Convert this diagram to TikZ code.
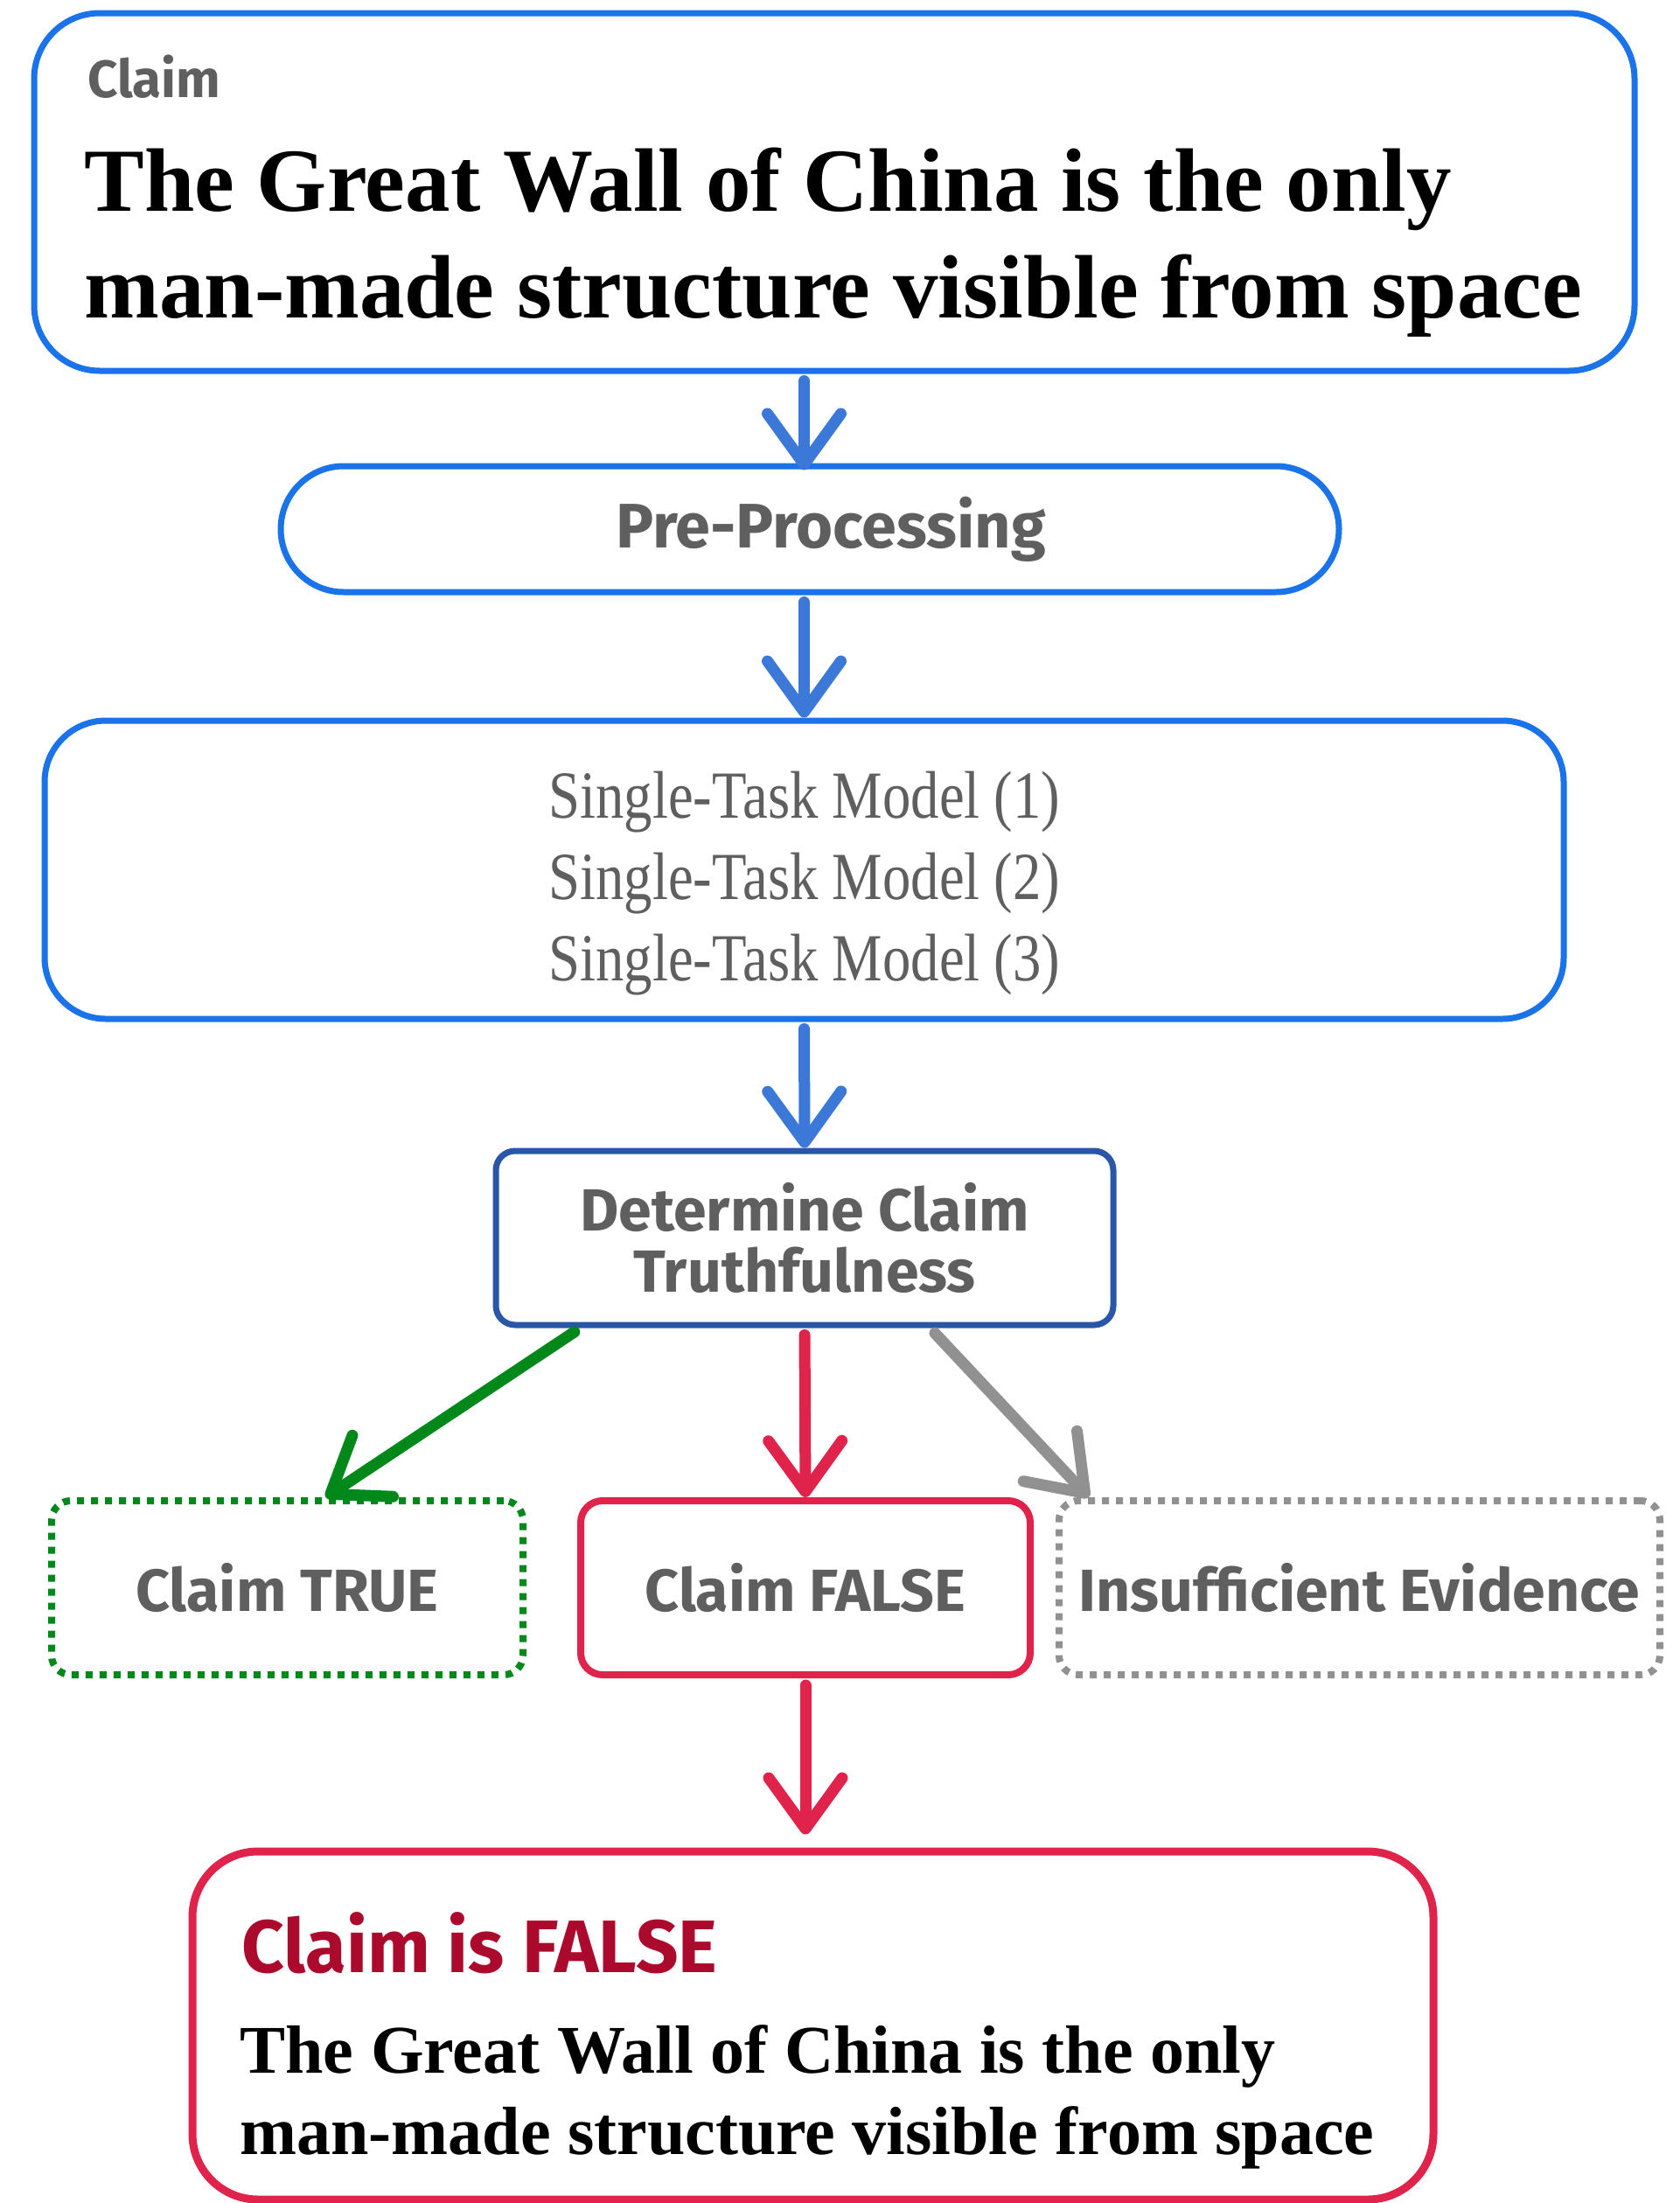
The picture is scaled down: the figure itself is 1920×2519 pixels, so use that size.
\documentclass[tikz,border=0pt]{standalone}
\usepackage{fontspec}
\setmainfont{Liberation Serif}
\setsansfont{Fira Sans}
\newfontfamily\modelfont[FakeStretch=0.84]{Liberation Serif}
\usetikzlibrary{arrows.meta}

\definecolor{claimblue}{HTML}{1A73E8}
\definecolor{arrowblue}{HTML}{3C78D8}
\definecolor{truthblue}{HTML}{2A56A8}
\definecolor{truegreen}{HTML}{00891A}
\definecolor{falsered}{HTML}{E0234A}
\definecolor{verdictred}{HTML}{AB0A2C}
\definecolor{unknowngray}{HTML}{919191}
\definecolor{labelgray}{HTML}{5F5F5F}

\begin{document}
\begin{tikzpicture}[x=1pt, y=-1pt,
		box/.style={draw, line width=7pt, inner sep=0pt},
		stage-text/.style={font=\sffamily\bfseries\fontsize{68}{70}\selectfont, text=labelgray},
		dotted-line/.style={line width=8pt, dash pattern=on 8pt off 8pt},
		flow/.style={line width=13pt, line cap=round, shorten <=8pt, -{Straight Barb[length=58pt, width=84pt, round]}}]
				\useasboundingbox (0, 0) rectangle (1920, 2519);

				% claim on top (base anchor sits on the last line)
				\node[box, draw=claimblue, rounded corners=75pt, minimum width=1830pt, minimum height=409pt] at (954, 219.5) (claim-box) {};
				\node[anchor=base west, font=\sffamily\bfseries\fontsize{60}{60}\selectfont, text=labelgray] at (97, 111) (claim-label) {Claim};
				\node[anchor=base west, align=left, font=\bfseries\fontsize{103}{122}\selectfont] at (93, 363) (claim-text) {The Great Wall of China is the only\\man-made structure visible from space};

				\node[box, draw=claimblue, rounded corners=72pt, minimum width=1210pt, minimum height=144pt] at (926, 605) (pre-processing) {};
				\node[stage-text, font=\sffamily\bfseries\fontsize{72}{72}\selectfont] at (950, 605) (pre-processing-text) {Pre-Processing};

				\node[box, draw=claimblue, rounded corners=70pt, minimum width=1737pt, minimum height=341pt] at (919.5, 994.5) (single-task-models) {};
				\node[anchor=base, align=center, text=labelgray, font=\modelfont\fontsize{77}{93}\selectfont] at (920, 1121) (single-task-models-text) {Single-Task Model (1)\\Single-Task Model (2)\\Single-Task Model (3)};

				\node[box, draw=truthblue, rounded corners=22pt, minimum width=706pt, minimum height=199pt, stage-text, align=center] at (920, 1415.5) (claim-truthfulness) {Determine Claim\\Truthfulness};

				% the three outcomes
				\node[box, draw=truegreen, dotted-line, rounded corners=22pt, minimum width=539pt, minimum height=199pt, stage-text] at (328.5, 1815.5) (claim-true) {Claim TRUE};
				\node[box, draw=falsered, line width=8pt, rounded corners=25pt, minimum width=514pt, minimum height=199pt, stage-text] at (921, 1815.5) (claim-false) {Claim FALSE};
				\node[box, draw=unknowngray, dotted-line, rounded corners=22pt, minimum width=687pt, minimum height=199pt, stage-text] at (1554.5, 1815.5) (insufficient-evidence) {Insufficient Evidence};

				% verdict at the bottom
				\node[box, draw=falsered, line width=9pt, rounded corners=75pt, minimum width=1419pt, minimum height=398pt] at (929.5, 2316) (verdict) {};
				\node[anchor=base west, font=\sffamily\bfseries\fontsize{85}{85}\selectfont, text=verdictred] at (273, 2255) (verdict-title) {Claim is FALSE};
				\node[anchor=base west, align=left, font=\bfseries\fontsize{78}{93}\selectfont] at (271, 2463) (verdict-text) {The Great Wall of China is the only\\man-made structure visible from space};

				\draw[flow, draw=arrowblue, shorten >=-8pt] (claim-box.south -| single-task-models.north) -- (pre-processing.north -| single-task-models.north);
				\draw[flow, draw=arrowblue] (pre-processing.south -| single-task-models.north) -- (single-task-models.north);
				\draw[flow, draw=arrowblue] (single-task-models.south) -- (claim-truthfulness.north);
				\draw[flow, draw=truegreen] ([xshift=100pt]claim-truthfulness.south west) -- ([xshift=44pt]claim-true.north);
				\draw[flow, draw=falsered] (claim-truthfulness.south) -- (claim-false.north);
				\draw[flow, draw=unknowngray] ([xshift=-213pt]claim-truthfulness.south east) -- ([xshift=38pt]insufficient-evidence.north west);
				\draw[flow, draw=falsered, shorten >=15pt] (claim-false.south) -- (claim-false.south |- verdict.north);
			\end{tikzpicture}
\end{document}
